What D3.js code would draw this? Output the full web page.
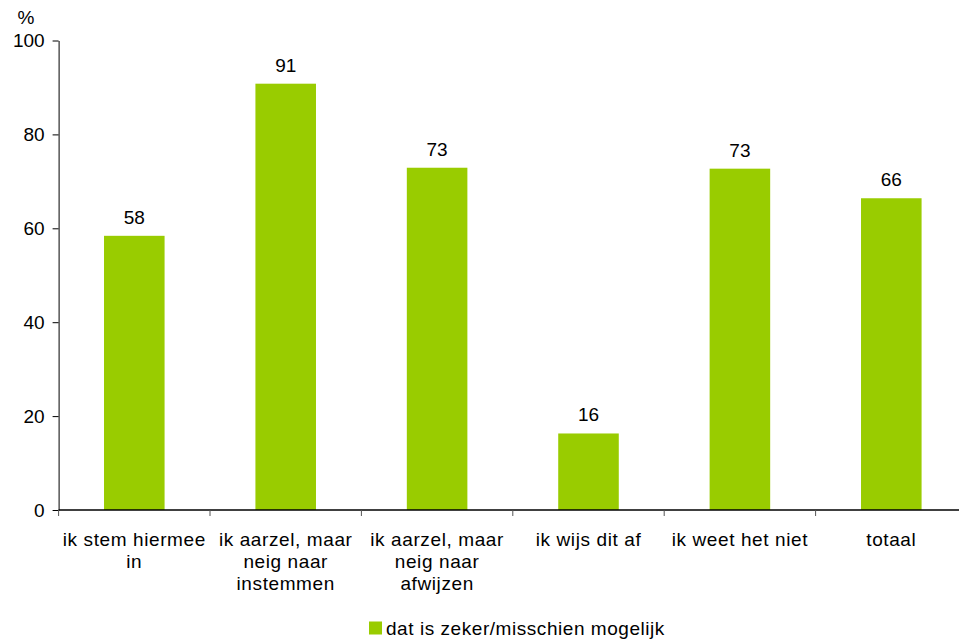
<!DOCTYPE html>
<html>
<head>
<meta charset="utf-8">
<script src="https://cdn.jsdelivr.net/npm/d3@7"></script>
<style>
  body { margin: 0; background: #fff; }
  svg { font-family: "Liberation Sans", Arial, sans-serif; }
</style>
</head>
<body>
<svg id="chart" width="959" height="639"></svg>
<script>
// data
var categories = [
  ["ik stem hiermee", "in"],
  ["ik aarzel, maar", "neig naar", "instemmen"],
  ["ik aarzel, maar", "neig naar", "afwijzen"],
  ["ik wijs dit af"],
  ["ik weet het niet"],
  ["totaal"]
];
var values = [58.4, 90.8, 72.9, 16.3, 72.7, 66.4];
var yTicks = [0, 20, 40, 60, 80, 100];
var seriesName = "dat is zeker/misschien mogelijk";

var svg = d3.select("#chart");
var mLeft = 58.6, mTop = 40.5, mBottom = 510, mRight = 967;
var fs = 19;

var x = d3.scaleBand()
  .domain(d3.range(categories.length))
  .range([mLeft, mRight])
  .paddingInner(0)
  .paddingOuter(0);
var y = d3.scaleLinear().domain([0, 100]).range([mBottom, mTop]);

var barW = x.bandwidth() * 0.4;

// bars
svg.selectAll("rect.bar")
  .data(values)
  .enter().append("rect")
  .attr("class", "bar")
  .attr("x", function(d, i) { return x(i) + (x.bandwidth() - barW) / 2; })
  .attr("y", function(d) { return y(d); })
  .attr("width", barW)
  .attr("height", function(d) { return y(0) - y(d); })
  .attr("fill", "#99cc00");

// value labels
svg.selectAll("text.val")
  .data(values)
  .enter().append("text")
  .attr("class", "val")
  .attr("x", function(d, i) { return x(i) + x.bandwidth() / 2; })
  .attr("y", function(d) { return y(d) - 12; })
  .attr("text-anchor", "middle")
  .attr("font-size", fs)
  .attr("fill", "#000")
  .text(function(d) { return Math.round(d); });

// y axis
var yAxis = svg.append("g")
  .attr("transform", "translate(" + mLeft + ",0)")
  .call(d3.axisLeft(y).tickValues(yTicks).tickSize(6).tickSizeOuter(0).tickPadding(8));
yAxis.select(".domain").attr("stroke", "#000");
yAxis.selectAll(".tick line").attr("stroke", "#000");
yAxis.selectAll(".tick text")
  .attr("font-size", fs)
  .attr("font-family", "Liberation Sans, Arial, sans-serif")
  .attr("fill", "#000");

svg.append("text")
  .attr("x", 26)
  .attr("y", 24)
  .attr("text-anchor", "middle")
  .attr("font-size", fs)
  .text("%");

// x axis
svg.append("line")
  .attr("x1", mLeft).attr("x2", mRight)
  .attr("y1", mBottom).attr("y2", mBottom)
  .attr("stroke", "#000").attr("stroke-width", 1.5);

var bounds = d3.range(categories.length + 1).map(function(i) { return mLeft + i * x.bandwidth(); });
svg.selectAll("line.xtick")
  .data(bounds)
  .enter().append("line")
  .attr("class", "xtick")
  .attr("x1", function(d) { return d; })
  .attr("x2", function(d) { return d; })
  .attr("y1", mBottom)
  .attr("y2", mBottom + 6)
  .attr("stroke", "#555");

var lbl = svg.selectAll("text.cat")
  .data(categories)
  .enter().append("text")
  .attr("class", "cat")
  .attr("text-anchor", "middle")
  .attr("font-size", fs)
  .attr("letter-spacing", 0.6)
  .attr("fill", "#000")
  .attr("transform", function(d, i) { return "translate(" + (x(i) + x.bandwidth() / 2) + ",546)"; });
lbl.selectAll("tspan")
  .data(function(d) { return d; })
  .enter().append("tspan")
  .attr("x", 0)
  .attr("y", function(d, j) { return j * 22; })
  .text(function(d) { return d; });

// legend
svg.append("rect")
  .attr("x", 369).attr("y", 621.5)
  .attr("width", 13).attr("height", 13)
  .attr("fill", "#99cc00");
svg.append("text")
  .attr("x", 386)
  .attr("y", 635)
  .attr("font-size", fs)
  .attr("letter-spacing", 0.55)
  .attr("fill", "#000")
  .text(seriesName);
</script>
</body>
</html>
